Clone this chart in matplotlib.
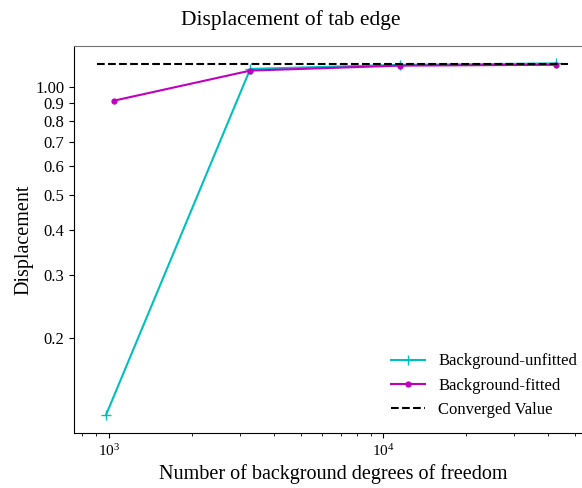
import matplotlib
matplotlib.use("Agg")
import matplotlib.pyplot as plt
from matplotlib.ticker import FixedLocator, FixedFormatter, NullLocator, LogLocator, NullFormatter

plt.rcParams['font.family'] = ['Liberation Serif', 'DejaVu Serif']
plt.rcParams['mathtext.fontset'] = 'stix'

# data
dof_unfitted = [975, 3275, 11530, 42760]
disp_unfitted = [0.122, 1.12, 1.15, 1.16]
dof_fitted = [1043, 3275, 11530, 42760]
disp_fitted = [0.914, 1.108, 1.144, 1.15]
converged_value = 1.159
converged_span = [904, 47300]

y_ticks = [0.2, 0.3, 0.4, 0.5, 0.6, 0.7, 0.8, 0.9, 1.0]
y_ticklabels = ['0.2', '0.3', '0.4', '0.5', '0.6', '0.7', '0.8', '0.9', '1.00']

fig = plt.figure(figsize=(5.82, 4.88), dpi=100)
ax = fig.add_axes([0.127, 0.1127, 0.89, 0.793])

ax.plot(dof_unfitted, disp_unfitted, color='c', linewidth=1.5, marker='+', markersize=7,
        label='Background-unfitted')
ax.plot(dof_fitted, disp_fitted, color='m', linewidth=1.5, marker='.', markersize=7,
        label='Background-fitted')
ax.hlines(converged_value, converged_span[0], converged_span[1], colors='k', linestyles='dashed',
          linewidth=1.5, label='Converged Value')

ax.set_xscale('log')
ax.set_yscale('log')
ax.set_xlim(745, 57700)
ax.set_ylim(0.1088, 1.297)

ax.yaxis.set_major_locator(FixedLocator(y_ticks))
ax.yaxis.set_major_formatter(FixedFormatter(y_ticklabels))
ax.yaxis.set_minor_locator(NullLocator())
ax.xaxis.set_minor_locator(LogLocator(base=10, subs=range(2, 10)))
ax.xaxis.set_minor_formatter(NullFormatter())
ax.tick_params(axis='y', labelsize=12)
ax.tick_params(axis='x', labelsize=11)
for s in ['top', 'right']:
    ax.spines[s].set_color('0.45')

ax.set_xlabel("Number of background degrees of freedom", fontsize=14.5)
ax.set_ylabel("Displacement", fontsize=14.5, labelpad=1)
fig.suptitle("Displacement of tab edge", fontsize=15.5, y=0.98, va='top')
ax.legend(loc='lower right', frameon=False, fontsize=12)

fig.savefig('out.png', dpi=100)
